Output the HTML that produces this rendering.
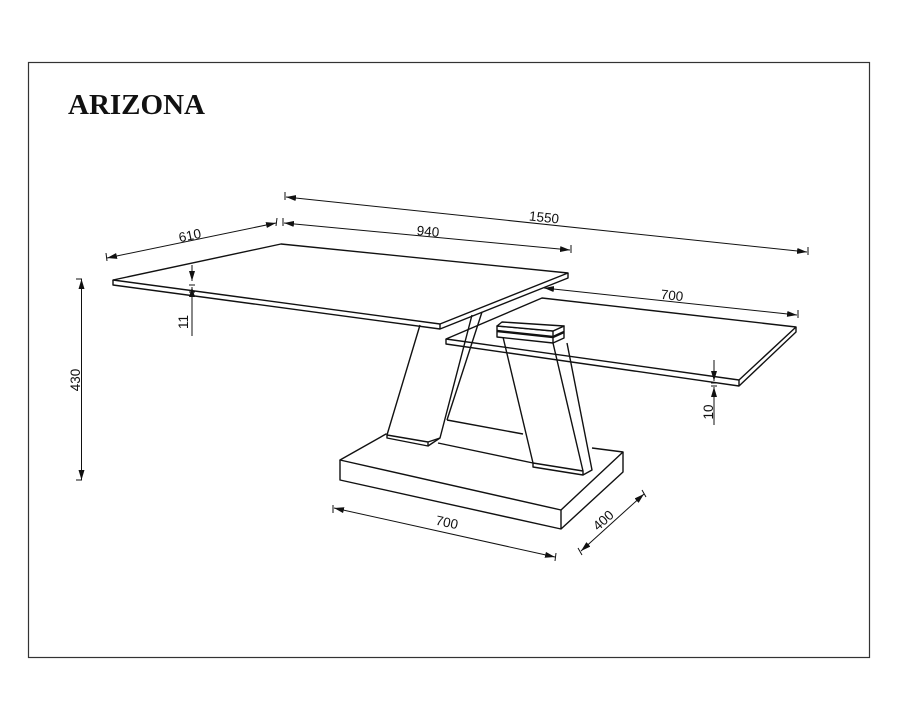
<!DOCTYPE html>
<html><head><meta charset="utf-8"><style>
html,body{margin:0;padding:0;background:#fff;}
svg{display:block;}
text{font-family:"Liberation Sans",sans-serif;font-size:13.5px;fill:#111;}
</style></head><body>
<svg width="900" height="720" viewBox="0 0 900 720" xmlns="http://www.w3.org/2000/svg">
<defs>
<marker id="a" viewBox="0 0 10 6" refX="10" refY="3" markerWidth="10" markerHeight="6" orient="auto-start-reverse" markerUnits="userSpaceOnUse"><path d="M0,0 L10,3 L0,6 z" fill="#111"/></marker>
</defs>
<rect x="28.5" y="62.5" width="841" height="595" fill="none" stroke="#333" stroke-width="1.2"/>
<text x="68" y="114" style="font-family:'Liberation Serif',serif;font-weight:bold;font-size:29px;fill:#111">ARIZONA</text>

<g fill="none" stroke="#111" stroke-width="1.4" stroke-linejoin="round">
<path d="M446,339 L542,298 L796,327 L739,380 Z" fill="#fff"/>
<path d="M446,339 L446,344 L739,386 L796,332 L796,327 M739,380 L739,386"/>
<path d="M447,420 L523,434"/>
<path d="M340,460 L561,510 L623,452 L592,448 M533,463 L438,443 M386,434 L340,460 Z" fill="#fff"/>
<path d="M340,460 L340,480 L561,529 L623,472 L623,452 M561,510 L561,529"/>
<path d="M420,325 L387,435 L387,438 L428,446 L440,438 L472,315"/>
<path d="M387,435 L428,442 L440,438 M428,442 L428,446"/>
<path d="M482,312 L447,420"/>
<path d="M503,337 L533,463 L533,467 L583,475 L592,470 L567,343 M553,343 L583,471 L583,475 M533,463 L583,471"/>
<!-- cap -->
<path d="M497,326 L497,337 L553,343 L564,338 L564,326 L553,331 Z" fill="#fff"/>
<path d="M497,326 L502,322 L564,326 L553,331 Z" fill="#fff"/>
<path d="M553,331 L553,343"/>
<path d="M497,331 L553,337 L564,332" stroke-width="2.4"/>
<path d="M113,280 L281,244 L568,273 L440,324 Z" fill="#fff"/>
<path d="M113,280 L113,285 L440,329 L568,278 L568,273 M440,324 L440,329"/>
</g>

<g stroke="#111" stroke-width="1" fill="none">
<line x1="107" y1="258" x2="276" y2="223" marker-start="url(#a)" marker-end="url(#a)"/>
<path d="M106,253 L107,261 M277,218 L276,226"/>
<line x1="284" y1="223" x2="570" y2="250" marker-start="url(#a)" marker-end="url(#a)"/>
<path d="M283,218 L283,226 M571,245 L571,253"/>
<line x1="286" y1="197" x2="807" y2="252" marker-start="url(#a)" marker-end="url(#a)"/>
<path d="M285,192 L285,200 M808,247 L808,255"/>
<line x1="544" y1="288" x2="797" y2="315" marker-start="url(#a)" marker-end="url(#a)"/>
<path d="M798,310 L798,318"/>
<line x1="81.5" y1="279" x2="81.5" y2="480" marker-start="url(#a)" marker-end="url(#a)"/>
<path d="M76,279 L82,279 M76,480 L82,480"/>
<line x1="192" y1="265" x2="192" y2="281" marker-end="url(#a)"/>
<line x1="192" y1="336" x2="192" y2="287" marker-end="url(#a)"/>
<path d="M189,285 L195,285 M189,292 L195,292"/>
<line x1="714" y1="360" x2="714" y2="381" marker-end="url(#a)"/>
<line x1="714" y1="425" x2="714" y2="387" marker-end="url(#a)"/>
<path d="M711,383 L717,383 M711,386 L717,386"/>
<line x1="334" y1="508" x2="555" y2="557" marker-start="url(#a)" marker-end="url(#a)"/>
<path d="M333,505 L333,513 M556,553 L555,561"/>
<line x1="581" y1="551" x2="644" y2="494" marker-start="url(#a)" marker-end="url(#a)"/>
<path d="M578,548 L582,555 M642,490 L646,497"/>
</g>
<text x="190" y="240" text-anchor="middle" transform="rotate(-12 190 236)">610</text>
<text x="428" y="236" text-anchor="middle" transform="rotate(5 428 232)">940</text>
<text x="544" y="222" text-anchor="middle" transform="rotate(6 544 218)">1550</text>
<text x="672" y="300" text-anchor="middle" transform="rotate(6 672 296)">700</text>
<text x="75" y="385" text-anchor="middle" transform="rotate(-90 75 380)">430</text>
<text x="183" y="327" text-anchor="middle" transform="rotate(-90 183 322)">11</text>
<text x="708" y="417" text-anchor="middle" transform="rotate(-90 708 412)">10</text>
<text x="447" y="527" text-anchor="middle" transform="rotate(12 447 522)">700</text>
<text x="603" y="525" text-anchor="middle" transform="rotate(-42 603 520)">400</text>
</svg>
</body></html>
